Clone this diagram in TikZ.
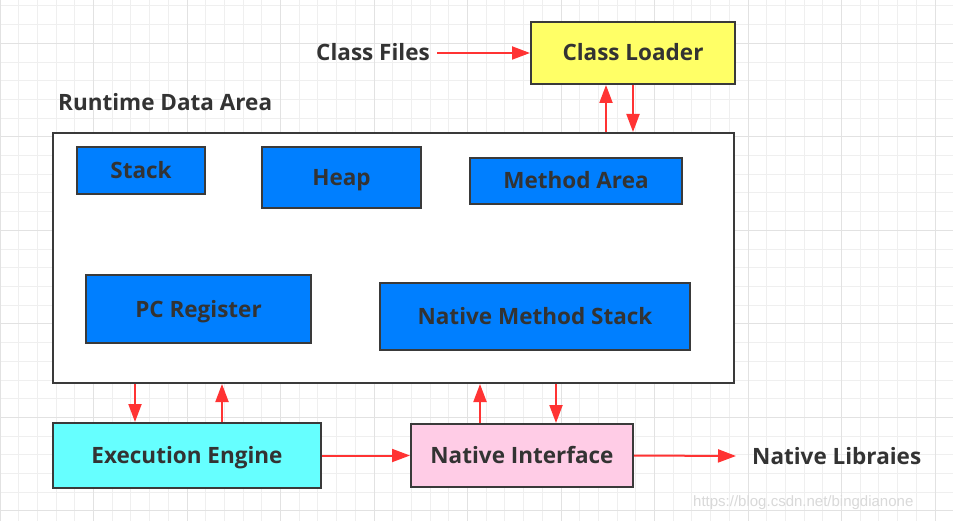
\documentclass[tikz,border=0pt]{standalone}
\usepackage{fontspec}
\setmainfont{Open Sans}
\newfontfamily\wmfont{Liberation Sans}
\usetikzlibrary{arrows.meta}
\definecolor{gridminor}{HTML}{EFEFEF}
\definecolor{gridmajor}{HTML}{E2E2E2}
\definecolor{boxborder}{HTML}{3A3A3A}
\definecolor{txt}{HTML}{333333}
\definecolor{arrred}{HTML}{FF3333}
\definecolor{memblue}{HTML}{007FFF}
\definecolor{loaderyellow}{HTML}{FFFF66}
\definecolor{execcyan}{HTML}{66FFFF}
\definecolor{nativepink}{HTML}{FFCCE6}
\tikzset{
  box/.style={draw=boxborder, line width=2pt, rectangle, inner sep=0pt, text=txt,
    text height=16pt, text depth=0pt,
    font=\fontsize{22.5}{26}\selectfont\bfseries},
  label text/.style={text=txt, inner sep=0pt, text height=16pt, text depth=0pt,
    font=\fontsize{22.5}{26}\selectfont\bfseries},
  arr/.style={draw=arrred, line width=2pt, -{Triangle[length=18pt,width=13pt]}},
}
\begin{document}
\begin{tikzpicture}[x=1pt,y=-1pt]
\useasboundingbox (0,0) rectangle (953,521);
\fill[white] (0,0) rectangle (953,521);
% grid
\foreach \i in {0,...,51} {
  \draw[gridminor, line width=1pt] ({\i*18.7},0) -- ({\i*18.7},521);
}
\foreach \j in {0,...,27} {
  \draw[gridminor, line width=1pt] (0,{6+\j*18.7}) -- (953,{6+\j*18.7});
}
\foreach \i in {0,...,10} {
  \draw[gridmajor, line width=1pt] ({\i*93.5},0) -- ({\i*93.5},521);
}
\foreach \j in {0,...,5} {
  \draw[gridmajor, line width=1pt] (0,{43.3+\j*93.5}) -- (953,{43.3+\j*93.5});
}
% outer runtime data area
\node[box, fill=white, minimum width=681pt, minimum height=250pt] (rda) at (393.5,258) {};
\node[label text, anchor=west] (rdalabel) at (58,103) {Runtime Data Area};
% inner boxes
\node[box, fill=memblue, minimum width=128pt, minimum height=47pt] (stack) at (141,170.5) {Stack};
\node[box, fill=memblue, minimum width=159pt, minimum height=61pt] (heap) at (341.5,177.5) {Heap};
\node[box, fill=memblue, minimum width=212pt, minimum height=46pt] (method) at (576,181) {Method Area};
\node[box, fill=memblue, minimum width=225pt, minimum height=68pt] (pc) at (198.5,309) {PC Register};
\node[box, fill=memblue, minimum width=310pt, minimum height=67pt] (nms) at (535,316.5) {Native Method Stack};
% loader
\node[box, fill=loaderyellow, minimum width=204pt, minimum height=62pt] (loader) at (633,53) {Class Loader};
\node[label text, anchor=east] (files) at (430,53) {Class Files};
% bottom
\node[box, fill=execcyan, minimum width=268pt, minimum height=65pt] (exec) at (187,455.5) {Execution Engine};
\node[box, fill=nativepink, minimum width=222pt, minimum height=63pt] (nif) at (522,455.5) {Native Interface};
\node[label text, anchor=west] (libs) at (752,456) {Native Libraies};
\coordinate (libsend) at (736,456);
\coordinate (filesend) at (437,53);
% arrows
\draw[arr] (filesend) -- (loader.west);
\draw[arr] (rda.north -| 606,0) -- (loader.south -| 606,0);
\draw[arr] (loader.south -| 633,0) -- (rda.north -| 633,0);
\draw[arr] (rda.south -| 135,0) -- (exec.north -| 135,0);
\draw[arr] (exec.north -| 222,0) -- (rda.south -| 222,0);
\draw[arr] (nif.north -| 480,0) -- (rda.south -| 480,0);
\draw[arr] (rda.south -| 556,0) -- (nif.north -| 556,0);
\draw[arr] (exec.east) -- (nif.west);
\draw[arr] (nif.east) -- (libsend);
% watermark
\node[text=black!15, inner sep=0pt, anchor=west, font=\wmfont\fontsize{15}{18}\selectfont] (wm) at (693,503) {https://blog.csdn.net/bingdianone};
\end{tikzpicture}
\end{document}
